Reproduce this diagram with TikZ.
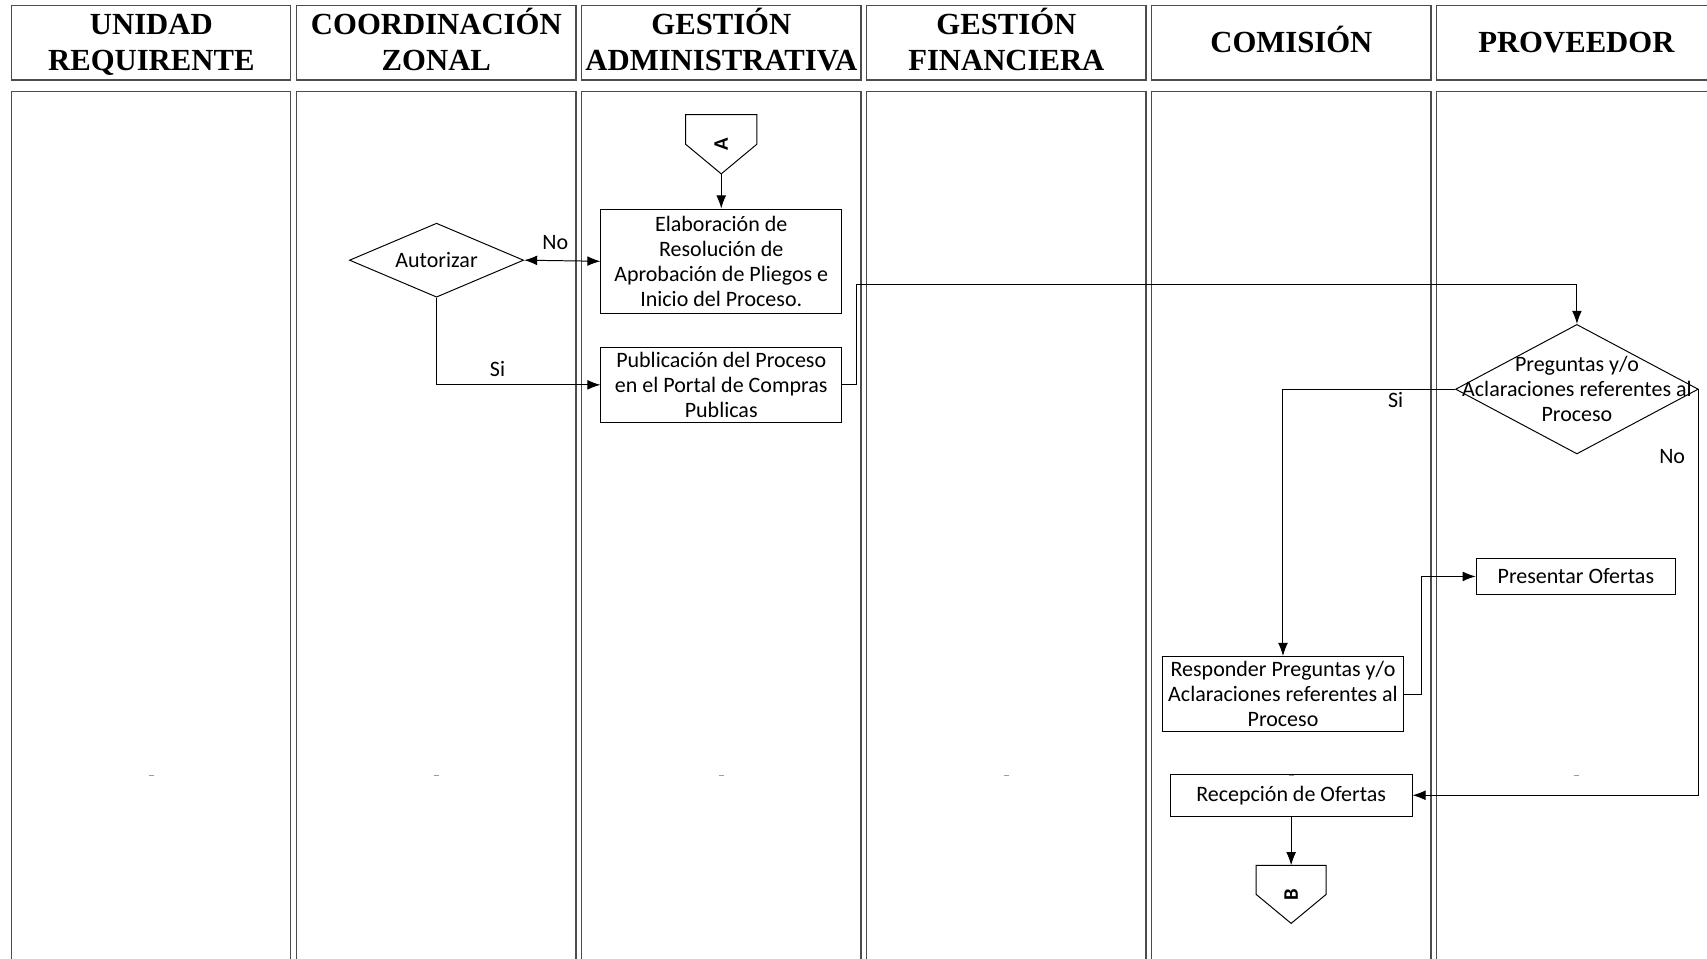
\documentclass[tikz,border=0pt]{standalone}
\usepackage{fontspec}
\usepackage{graphicx}
\setmainfont{Carlito}
\newfontfamily\lanefont{Liberation Serif}
\usetikzlibrary{arrows.meta,shapes.geometric}

\definecolor{tickblue}{RGB}{110,165,230}

\tikzset{
  lane/.style={draw=black!70, line width=1.1pt},
  lanehead/.style={font=\lanefont\bfseries\fontsize{28.2}{33}\selectfont, align=center},
  txt/.style={font=\fontsize{20.2}{23}\selectfont, align=center, inner sep=0pt},
  proc/.style={txt, draw, line width=0.9pt},
  decision/.style={txt, draw, diamond, line width=0.9pt},
  offpage/.style={minimum width=65pt, minimum height=54pt, inner sep=0pt,
    font=\bfseries\fontsize{19}{22}\selectfont},
  flow/.style={line width=0.9pt, -{Latex[length=12pt,width=9pt]}},
}

\begin{document}
\begin{tikzpicture}[x=1pt,y=-1pt]
\useasboundingbox (0,0) rectangle (1568,880);
\fill[white] (0,0) rectangle (1568,880);
%
% swimlanes
\foreach \i/\name in {0/{UNIDAD\\REQUIRENTE},1/{COORDINACIÓN\\ZONAL},
    2/{GESTIÓN\\ADMINISTRATIVA},3/{GESTIÓN\\FINANCIERA},4/{COMISIÓN},5/{PROVEEDOR}}{
  \draw[lane] (10.7+261.8*\i,5) rectangle ++(256.5,68.5);
  \draw[lane] (10.7+261.8*\i,84.2) rectangle ++(256.5,820);
  \node[lanehead] at (139+261.8*\i,38.3) {\vphantom{Ó}\name\vphantom{Q}};
  \draw[tickblue, line width=1pt] (136.5+261.8*\i,712) -- ++(5,0);
}
%
% steps
\node[offpage] (A) at (662.5,132.5) {\rotatebox{90}{A}};
\draw[line width=0.9pt] (A.north west) -- (A.north east) -- (A.east) -- (A.south) -- (A.west) -- cycle;
\node[proc, minimum width=221pt, minimum height=96pt] (elab) at (662.5,240)
  {Elaboración de\\Resolución de\\Aprobación de Pliegos e\\Inicio del Proceso.};
\node[proc, minimum width=221pt, minimum height=69pt] (publ) at (662.5,353.5)
  {Publicación del Proceso\\en el Portal de Compras\\Publicas};
\node[decision, aspect=2.35, minimum width=160pt, minimum height=68pt] (aut) at (401,239) {Autorizar};
\node[decision, aspect=1.87, minimum width=223pt, minimum height=119pt] (preg) at (1448.5,357.5) {};
\node[txt] (pregtxt) at (preg) {Preguntas y/o\\Aclaraciones referentes al\\Proceso};
\node[proc, minimum width=221pt, minimum height=69pt] (resp) at (1178.5,637.5)
  {Responder Preguntas y/o\\Aclaraciones referentes al\\Proceso};
\node[proc, minimum width=183pt, minimum height=33pt] (pres) at (1447.5,529.5) {Presentar Ofertas};
\node[proc, minimum width=222pt, minimum height=39pt] (recep) at (1186,730.5) {\raisebox{-2pt}{Recepción de Ofertas}};
\node[offpage, minimum width=64pt, minimum height=53pt] (B) at (1186,821.5) {\rotatebox{90}{B}};
\draw[line width=0.9pt] (B.north west) -- (B.north east) -- (B.east) -- (B.south) -- (B.west) -- cycle;
%
% connectors
\draw[flow] (A.south) -- (elab.north);
\draw[line width=0.9pt, {Latex[length=12pt,width=9pt]}-{Latex[length=12pt,width=9pt]}] (aut.east) -- (elab.west);
\node[txt] (no1) at (510,223) {No};
\draw[flow] (aut.south) |- (publ.west);
\node[txt] (si1) at (457,339) {Si};
\draw[flow] (publ.east) -- ++(13,0) -- ++(0,-92.5) -| (preg.north);
\draw[flow] (preg.west) -| (resp.north);
\node[txt] (si2) at (1282,367) {Si};
\draw[flow] (preg.east) |- (recep.east);
\node[txt] (no2) at (1536,419) {No};
\draw[flow] (resp.east) -- ++(16,0) |- (pres.west);
\draw[flow] (recep.south) -- (B.north);
%
\end{tikzpicture}
\end{document}
